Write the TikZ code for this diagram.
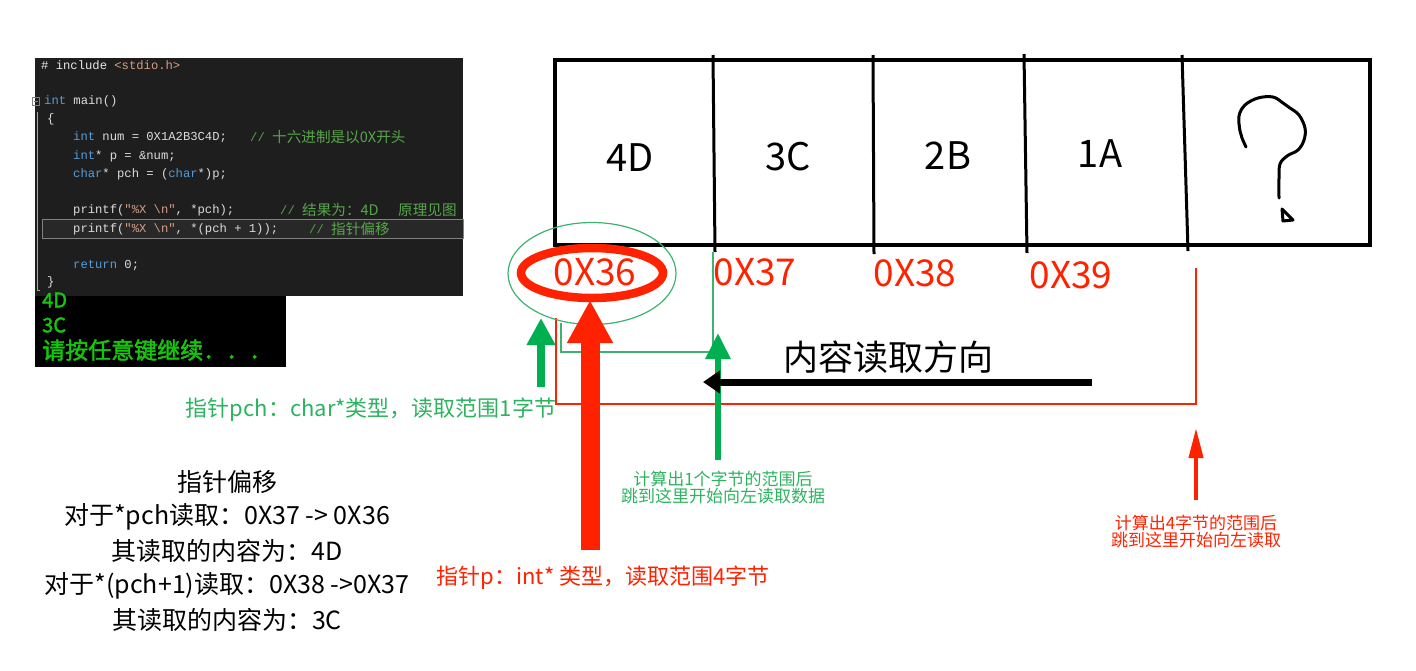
\documentclass[tikz,border=0pt]{standalone}
\usepackage{fontspec}
\setmainfont{Noto Sans CJK SC}
\newfontfamily\codefont{Liberation Mono}
\newfontfamily\codecjk{Noto Sans CJK SC}
\newfontfamily\consolefont[FakeBold=2]{Noto Sans CJK SC}
\usepackage{tikz}
\usetikzlibrary{arrows.meta, positioning}
\newcommand{\setsize}[1]{\fontsize{#1}{#1}\selectfont}
\definecolor{codebg}{HTML}{1E1E1E}
\definecolor{codeline}{HTML}{282828}
\definecolor{codegray}{HTML}{DCDCDC}
\definecolor{codeblue}{HTML}{569CD6}
\definecolor{codegreen}{HTML}{57A64A}
\definecolor{codestr}{HTML}{D69D85}
\definecolor{consolegreen}{HTML}{16C60C}
\definecolor{myred}{HTML}{FF2200}
\definecolor{arrowgreen}{HTML}{00B050}
\definecolor{textgreen}{HTML}{2DB360}
\definecolor{linegreen}{HTML}{3CB371}

\begin{document}
\begin{tikzpicture}[x=1pt, y=-1pt,
  code/.style={anchor=west, inner sep=0pt, text=codegray, font=\codefont\setsize{12.2}},
  cmt/.style={anchor=west, inner sep=0pt, text=codegreen, font=\codefont\setsize{12.2}},
  cjkc/.style={anchor=west, inner sep=0pt, text=codegreen, font=\codecjk\setsize{14.6}},
  cell/.style={font=\setsize{38}},
  addr/.style={text=myred, font=\setsize{37}},
  note/.style={align=center, font=\setsize{17}}]
  \path[use as bounding box] (0,0) rectangle (1416,670);

  % Code window
  \fill[codebg] (35,58) rectangle (463,296);
  \fill[codeline, draw=black!50] (42,219) rectangle (463,238);
  \draw[gray] (32,97) rectangle (39,105);
  \draw[gray] (33.5,101) -- (37.5,101);
  \draw[gray!70] (37,112) -- (37,290) -- (40,290);
  \node[code] (inc) at (41,65) {{\color{codegray!65}\# include} {\color{codestr}<stdio.h>}};
  \node[code] (mainl) at (44,101) {{\color{codeblue}int} main()};
  \node[code] (open) at (47,119) {\{};
  \node[code] (num) at (73,137) {{\color{codeblue}int} num = 0X1A2B3C4D;};
  \node[cmt] (c1) at (250,137) {//};
  \node[cjkc] (c1b) at (272,137) {十六进制是以0X开头};
  \node[code] (pl) at (73,156) {{\color{codeblue}int}* p = \&num;};
  \node[code] (pchl) at (73,174) {{\color{codeblue}char}* pch = ({\color{codeblue}char}*)p;};
  \node[code] (pr1) at (73,210) {printf({\color{codestr}"\%X \textbackslash n"}, *pch);};
  \node[cmt] (c2) at (280,210) {//};
  \node[cjkc] (c2b) at (302,210) {结果为：4D};
  \node[cjkc] (c2c) at (398,210) {原理见图};
  \node[code] (pr2) at (73,229) {printf({\color{codestr}"\%X \textbackslash n"}, *(pch + 1));};
  \node[cmt] (c3) at (309,229) {//};
  \node[cjkc] (c3b) at (331,229) {指针偏移};
  \node[code] (ret) at (73,265) {{\color{codeblue}return} 0;};
  \node[code] (close) at (47,282) {\}};

  % Console output
  \fill[black] (35,296) rectangle (286,367);
  \node[anchor=west, inner sep=0pt, text=consolegreen, font=\consolefont\setsize{20}] (out1) at (42,300) {4D};
  \node[anchor=west, inner sep=0pt, text=consolegreen, font=\consolefont\setsize{20}] (out2) at (42,325) {3C};
  \node[anchor=west, inner sep=0pt, text=consolegreen, font=\consolefont\setsize{23}] (out3) at (42,350) {请按任意键继续．．．};

  % Memory cells
  \draw[line width=3.5pt] (555,60) rectangle (1370,245);
  \draw[line width=3pt] (713,55) -- (715,252);
  \draw[line width=3pt] (873,55) -- (874,254);
  \draw[line width=3pt] (1024,54) -- (1027,253);
  \draw[line width=3pt] (1182,55) -- (1188,251);
  \node[cell] (m4D) at (630,158) {4D};
  \node[cell] (m3C) at (788,157) {3C};
  \node[cell] (m2B) at (948,156) {2B};
  \node[cell] (m1A) at (1100,154) {1A};
  \draw[line width=3pt, line cap=round, line join=round] plot[smooth, tension=0.6] coordinates {(1246,147) (1242,138) (1240,131) (1239,116) (1245,105) (1258,98) (1273,97) (1283,103) (1290,108) (1299,115) (1305,128) (1304,140) (1298,150) (1287,156) (1280,164) (1279,178) (1279,198)};
  \draw[line width=3pt, line join=round] (1282,209) -- (1283,221) -- (1293,220) -- cycle;

  % Brackets
  \draw[myred, line width=1.2pt] (556,318) -- (556,404) -- (1196,404) -- (1196,268);
  \draw[linegreen, line width=1.2pt] (561,323) -- (561,352) -- (713,352) -- (713,252);

  % Addresses
  \draw[linegreen, line width=1.2pt] (592,273.5) ellipse [x radius=84pt, y radius=51pt];
  \draw[myred, line width=8.5pt] (592,273) ellipse [x radius=71pt, y radius=25pt];
  \node[addr] (a36) at (595,272) {0X36};
  \node[addr] (a37) at (755,272) {0X37};
  \node[addr] (a38) at (915,273) {0X38};
  \node[addr] (a39) at (1071,275) {0X39};

  % Arrows
  \coordinate (pTail) at (590,550);
  \coordinate (pTip) at (590,300);
  \coordinate (pchTail) at (541,387);
  \coordinate (pchTip) at (541,318);
  \coordinate (oneTail) at (718,460);
  \coordinate (oneTip) at (718,333);
  \coordinate (dirTail) at (1092,382);
  \coordinate (dirTip) at (703,382);
  \coordinate (fourTail) at (1196,500);
  \coordinate (fourTip) at (1196,428);
  \draw[myred, line width=19pt, -{Triangle[width=43pt, length=43pt]}] (pTail) -- (pTip);
  \draw[arrowgreen, line width=8pt, -{Triangle[width=27pt, length=27pt]}] (pchTail) -- (pchTip);
  \draw[arrowgreen, line width=6pt, -{Triangle[width=24pt, length=26pt]}] (oneTail) -- (oneTip);
  \draw[black, line width=7pt, -{Triangle[width=22pt, length=17pt]}] (dirTail) -- (dirTip);
  \draw[myred, line width=4pt, -{Triangle[width=14pt, length=30pt]}] (fourTail) -- (fourTip);

  % Labels
  \node[font=\setsize{35}] (dir) at (888,357) {内容读取方向};
  \node[text=textgreen, font=\setsize{22}] (pchLabel) at (371,410) {指针pch：char*类型，读取范围1字节};
  \node[text=myred, font=\setsize{22}] (pLabel) at (603,578) {指针p：int* 类型，读取范围4字节};
  \node[note, text=textgreen] (oneNote) at (723,488) {计算出1个字节的范围后\\跳到这里开始向左读取数据};
  \node[note, text=myred] (fourNote) at (1196,532) {计算出4字节的范围后\\跳到这里开始向左读取};
  \node[align=center, font=\setsize{25}] (offset) at (227,551) {指针偏移\\[8pt]对于*pch读取：0X37 -> 0X36\\[8pt]其读取的内容为：4D\\[8pt]对于*(pch+1)读取：0X38 ->0X37\\[8pt]其读取的内容为：3C};
\end{tikzpicture}
\end{document}
